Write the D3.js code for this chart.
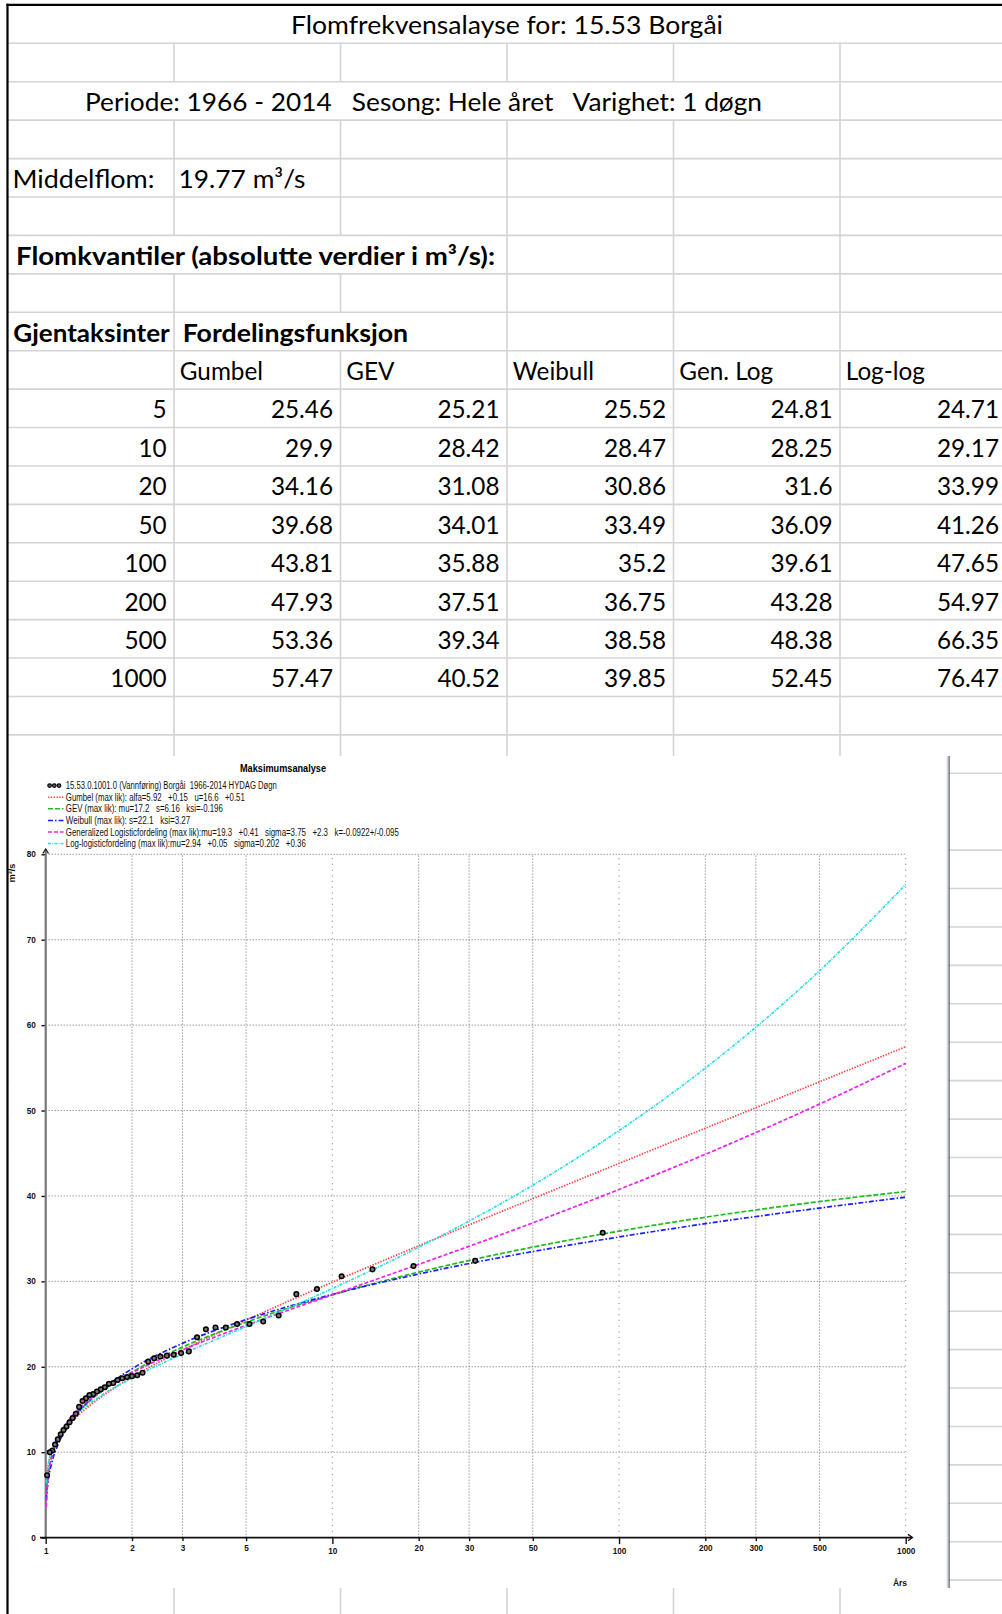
<!DOCTYPE html>
<html><head><meta charset="utf-8">
<script src="https://cdn.jsdelivr.net/npm/d3@7/dist/d3.min.js"></script>
<style>
html,body{margin:0;padding:0;background:#fff;}
svg{display:block}
text{white-space:pre}
</style></head>
<body><svg id="page" width="1002" height="1614"></svg>
<script>
// ================= DATA =================
const titleText   = "Flomfrekvensalayse for: 15.53 Borgåi";
const periodText  = "Periode: 1966 - 2014   Sesong: Hele året   Varighet: 1 døgn";
const meanLabel   = "Middelflom:";
const meanValue   = "19.77 m³/s";
const quantHeader = "Flomkvantiler (absolutte verdier i m³/s):";
const returnHeader= "Gjentaksinter";
const distHeader  = "Fordelingsfunksjon";
const distNames   = ["Gumbel","GEV","Weibull","Gen. Log","Log-log"];
const returnPeriods = [5,10,20,50,100,200,500,1000];
const tblGumbel  = [25.46,29.9,34.16,39.68,43.81,47.93,53.36,57.47];
const tblGEV     = [25.21,28.42,31.08,34.01,35.88,37.51,39.34,40.52];
const tblWeibull = [25.52,28.47,30.86,33.49,35.2,36.75,38.58,39.85];
const tblGenLog  = [24.81,28.25,31.6,36.09,39.61,43.28,48.38,52.45];
const tblLogLog  = [24.71,29.17,33.99,41.26,47.65,54.97,66.35,76.47];

// chart
const chartTitle = "Maksimumsanalyse";
const legendLabels = [
  "15.53.0.1001.0 (Vannføring) Borgåi  1966-2014 HYDAG Døgn",
  "Gumbel (max lik): alfa=5.92   +0.15   u=16.6   +0.51",
  "GEV (max lik): mu=17.2   s=6.16   ksi=-0.196",
  "Weibull (max lik): s=22.1   ksi=3.27",
  "Generalized Logisticfordeling (max lik):mu=19.3   +0.41   sigma=3.75   +2.3   k=-0.0922+/-0.095",
  "Log-logisticfordeling (max lik):mu=2.94   +0.05   sigma=0.202   +0.36"
];
const yAxisLabel = "m³/s";
const xAxisLabel = "Års";
const xTicks = [1,2,3,5,10,20,30,50,100,200,300,500,1000];
const yTicks = [0,10,20,30,40,50,60,70,80];

// curves: return period -> discharge
const curveT       = [1.005,1.01,1.02,1.05,1.1,1.2,1.3,1.5,2,3,5,10,20,50,100,200,500,1000];
const curveGumbel  = [6.72,7.55,8.50,10.01,11.42,13.15,14.33,16.04,18.77,21.94,25.46,29.9,34.16,39.68,43.81,47.93,53.36,57.47];
const curveGEV     = [5.04,6.22,7.53,9.53,11.32,13.39,14.75,16.62,19.38,22.30,25.21,28.42,31.08,34.01,35.88,37.51,39.34,40.52];
const curveWeibull = [4.37,5.40,6.66,8.78,10.77,13.13,14.68,16.77,19.76,22.74,25.52,28.47,30.86,33.49,35.2,36.75,38.58,39.85];
const curveGenLog  = [3.6,5.23,6.99,9.49,11.52,13.69,15.03,16.78,19.3,21.98,24.85,28.43,31.99,36.85,40.76,44.88,50.75,55.52];
const curveLogLog  = [6.41,7.37,8.48,10.20,11.73,13.49,14.65,16.24,18.68,21.49,24.71,29.17,33.99,41.26,47.65,54.97,66.35,76.47];

// observed annual maxima (return period, discharge)
const obsT = [87.71,31.49,19.19,13.80,10.77,8.835,7.488,6.497,5.738,5.138,4.652,4.249,3.911,3.622,3.374,3.157,2.966,2.797,2.647,2.511,2.389,2.278,2.177,2.085,2.000,1.922,1.849,1.782,1.720,1.662,1.607,1.556,1.509,1.464,1.421,1.381,1.344,1.308,1.274,1.242,1.211,1.182,1.154,1.128,1.102,1.078,1.055,1.033,1.0115];
const obsQ = [35.7,32.4,31.8,31.4,30.6,29.1,28.5,26.0,25.3,25.0,25.0,24.6,24.6,24.4,23.45,21.8,21.6,21.4,21.3,21.2,21.0,20.6,19.3,19.0,18.9,18.8,18.65,18.45,18.1,18.0,17.6,17.35,17.1,16.8,16.7,16.3,16.0,15.3,14.5,14.0,13.5,13.0,12.6,12.1,11.5,10.9,10.2,10.0,7.3];

// ================= LAYOUT / STYLE =================
const svg = d3.select("#page");
const TF = "Lato, 'Open Sans', sans-serif";
const CF = "'Liberation Sans Narrow','Liberation Sans',Arial,sans-serif";
const colX = [7.5,174,340.5,507,673.5,840,1006.5];
const rowTop = k => 4.9 + 38.42*k;
const FS = 24.3;
const gridColor = "#d4d4d4";

// spreadsheet grid
const gGrid = svg.append("g");
for (let k=1;k<=42;k++){
  if (k===21) continue; // hidden behind picture / not visible at right
  gGrid.append("line").attr("x1",7.5).attr("x2",1002)
    .attr("y1",rowTop(k)).attr("y2",rowTop(k))
    .attr("stroke",gridColor).attr("stroke-width",1.6);
}
const skip = {0:[1,2,3,4,5],2:[1,2,3,4],6:[1,2],8:[2]};
for (let r=0;r<42;r++){
  for (let c=1;c<=5;c++){
    if (skip[r] && skip[r].includes(c)) continue;
    gGrid.append("line").attr("x1",colX[c]).attr("x2",colX[c])
      .attr("y1",rowTop(r)).attr("y2",rowTop(r+1))
      .attr("stroke",gridColor).attr("stroke-width",1.6);
  }
}

// table text
const gT = svg.append("g").attr("font-family",TF).attr("font-size",FS).attr("fill","#000");
function cellText(str,x,row,anchor,bold,len){
  const t = gT.append("text").attr("x",x).attr("y",rowTop(row)+29.3)
    .attr("text-anchor",anchor||"start").text(str);
  if (bold) t.attr("font-weight",700);
  if (len) t.attr("textLength",len).attr("lengthAdjust","spacingAndGlyphs");
  return t;
}
cellText(titleText,507,0,"middle",false,432);
cellText(periodText,423.5,2,"middle",false,677);
cellText(meanLabel,12.5,4,"start",false,142);
cellText(meanValue,178.5,4,"start",false,127);
cellText(quantHeader,16,6,"start",true,479);
cellText(returnHeader,13.3,8,"start",true,156.5);
cellText(distHeader,182.7,8,"start",true,225.5);
distNames.forEach((n,i)=>cellText(n,colX[i+1]+5.8,9,"start"));
const tbl = [tblGumbel,tblGEV,tblWeibull,tblGenLog,tblLogLog];
returnPeriods.forEach((T,r)=>{
  cellText(String(T),colX[1]-7.3,10+r,"end");
  tbl.forEach((col,c)=>cellText(String(col[r]),colX[c+2]-7.5,10+r,"end"));
});

// table borders
svg.append("line").attr("x1",6.4).attr("x2",1002).attr("y1",4.9).attr("y2",4.9)
  .attr("stroke","#000").attr("stroke-width",2.2);

// ================= CHART IMAGE =================
const imgX0 = 8.6, imgY0 = 756, imgX1 = 947.5, imgY1 = 1588;
svg.append("rect").attr("x",imgX0).attr("y",imgY0).attr("width",imgX1-imgX0).attr("height",imgY1-imgY0).attr("fill","#fff");
svg.append("line").attr("x1",imgX1).attr("x2",imgX1).attr("y1",imgY0).attr("y2",imgY1).attr("stroke","#cdd6f2").attr("stroke-width",1.6);
svg.append("line").attr("x1",imgX1+1.6).attr("x2",imgX1+1.6).attr("y1",imgY0).attr("y2",imgY1).attr("stroke","#5c5c5c").attr("stroke-width",1.2);
svg.append("line").attr("x1",7.5).attr("x2",7.5).attr("y1",3.8).attr("y2",1614)
  .attr("stroke","#000").attr("stroke-width",2.2);

const x = d3.scaleLog().domain([1,1000]).range([45.7,905.7]);
const y = d3.scaleLinear().domain([0,80]).range([1537.6,854.3]);
const gC = svg.append("g");

// title
gC.append("text").attr("x",283).attr("y",772).attr("text-anchor","middle")
  .attr("font-family",CF).attr("font-weight",700).attr("font-size",11.5)
  .attr("fill","#000").attr("textLength",86).attr("lengthAdjust","spacingAndGlyphs").text(chartTitle);

// grid
yTicks.filter(v=>v>0).forEach(v=>{
  gC.append("line").attr("x1",x(1)).attr("x2",x(1000)).attr("y1",y(v)).attr("y2",y(v))
    .attr("stroke","#5f5f5f").attr("stroke-width",0.9).attr("stroke-dasharray","1,2");
});
const isDecade = v => [1,10,100,1000].includes(v);
xTicks.filter(v=>v>1).forEach(v=>{
  gC.append("line").attr("x1",x(v)).attr("x2",x(v)).attr("y1",y(0)).attr("y2",y(80))
    .attr("stroke",isDecade(v)?"#9a9a9a":"#5f5f5f").attr("stroke-width",isDecade(v)?1.1:0.9)
    .attr("stroke-dasharray",isDecade(v)?"1.2,4.5":"1,2");
});

// axes
const xAxis = d3.axisBottom(x).tickValues(xTicks).tickFormat(d3.format("d")).tickSizeOuter(0);
const gx = gC.append("g").attr("transform",`translate(0,${y(0)})`).call(xAxis);
gx.select(".domain").remove();
gx.selectAll(".tick line").attr("y2",d=>isDecade(d)?6.5:3.5).attr("stroke","#111").attr("stroke-width",1.4);
gx.selectAll(".tick text").attr("y",d=>isDecade(d)?13.5:10.2).attr("dy","0.35em")
  .attr("font-family",CF).attr("font-weight",700).attr("font-size",8.2).attr("fill","#111");

const yAxis = d3.axisLeft(y).tickValues(yTicks).tickSize(4.2).tickPadding(5.6).tickSizeOuter(0);
const gy = gC.append("g").attr("transform",`translate(${x(1)},0)`).call(yAxis);
gy.select(".domain").remove();
gy.selectAll(".tick line").attr("stroke","#111").attr("stroke-width",1.4);
gy.selectAll(".tick text").attr("font-family",CF).attr("font-weight",700).attr("font-size",8.2).attr("fill","#111");

// y axis line (gray) with arrow
gC.append("line").attr("x1",x(1)).attr("x2",x(1)).attr("y1",y(0)).attr("y2",849.5)
  .attr("stroke","#777").attr("stroke-width",2.2);
gC.append("path").attr("d",`M${x(1)-2.8},${853.5} L${x(1)},${849} L${x(1)+2.8},${853.5}`)
  .attr("fill","none").attr("stroke","#222").attr("stroke-width",1.3);
// x axis line (black) with arrow
gC.append("line").attr("x1",40).attr("x2",912).attr("y1",y(0)).attr("y2",y(0))
  .attr("stroke","#111").attr("stroke-width",1.9);
gC.append("path").attr("d",`M908,${y(0)-3.2} L912.5,${y(0)} L908,${y(0)+3.2}`)
  .attr("fill","none").attr("stroke","#111").attr("stroke-width",1.3);

// axis titles
gC.append("text").attr("transform",`translate(14.8,873) rotate(-90)`).attr("text-anchor","middle")
  .attr("font-family",CF).attr("font-weight",700).attr("font-size",9).attr("fill","#111").text(yAxisLabel);
gC.append("text").attr("x",900).attr("y",1586).attr("text-anchor","middle")
  .attr("font-family",CF).attr("font-weight",700).attr("font-size",8.5).attr("fill","#111").text(xAxisLabel);

// curves
const curveStyles = [
  {vals:curveGumbel,  color:"#ff4040", dash:"1.4,1.4"},
  {vals:curveGEV,     color:"#20bb20", dash:"5,2"},
  {vals:curveWeibull, color:"#1c1cff", dash:"5,2,1.5,2"},
  {vals:curveGenLog,  color:"#ee22ee", dash:"4,2"},
  {vals:curveLogLog,  color:"#2bdbe6", dash:"3,1.2,1,1.2"}
];
const line = d3.line().x(d=>x(d[0])).y(d=>y(d[1])).curve(d3.curveMonotoneX);
curveStyles.forEach(s=>{
  gC.append("path").attr("d",line(curveT.map((t,i)=>[t,s.vals[i]])))
    .attr("fill","none").attr("stroke",s.color).attr("stroke-width",1.7)
    .attr("stroke-dasharray",s.dash);
});

// observed points
gC.selectAll("circle.obs").data(obsT.map((t,i)=>[t,obsQ[i]])).enter().append("circle")
  .attr("class","obs").attr("cx",d=>x(d[0])).attr("cy",d=>y(d[1])).attr("r",2.3)
  .attr("fill","#777").attr("stroke","#000").attr("stroke-width",1.5);

// legend
const legY0 = 785.6, legDY = 11.6;
const legWidths = [211,179,157,124.5,333,240];
legendLabels.forEach((lab,i)=>{
  const yy = legY0 + i*legDY;
  if (i===0){
    [49.6,54.3,59].forEach(cx=>gC.append("circle").attr("cx",cx).attr("cy",yy).attr("r",1.8)
      .attr("fill","#666").attr("stroke","#000").attr("stroke-width",1.2));
  } else {
    const s = curveStyles[i-1];
    gC.append("line").attr("x1",48).attr("x2",63.5).attr("y1",yy).attr("y2",yy)
      .attr("stroke",s.color).attr("stroke-width",1.5).attr("stroke-dasharray",s.dash);
  }
  gC.append("text").attr("x",65.8).attr("y",yy+3.5)
    .attr("font-family",CF).attr("font-size",10).attr("fill","#111")
    .attr("textLength",legWidths[i]).attr("lengthAdjust","spacingAndGlyphs").text(lab);
});
</script>
</body></html>
